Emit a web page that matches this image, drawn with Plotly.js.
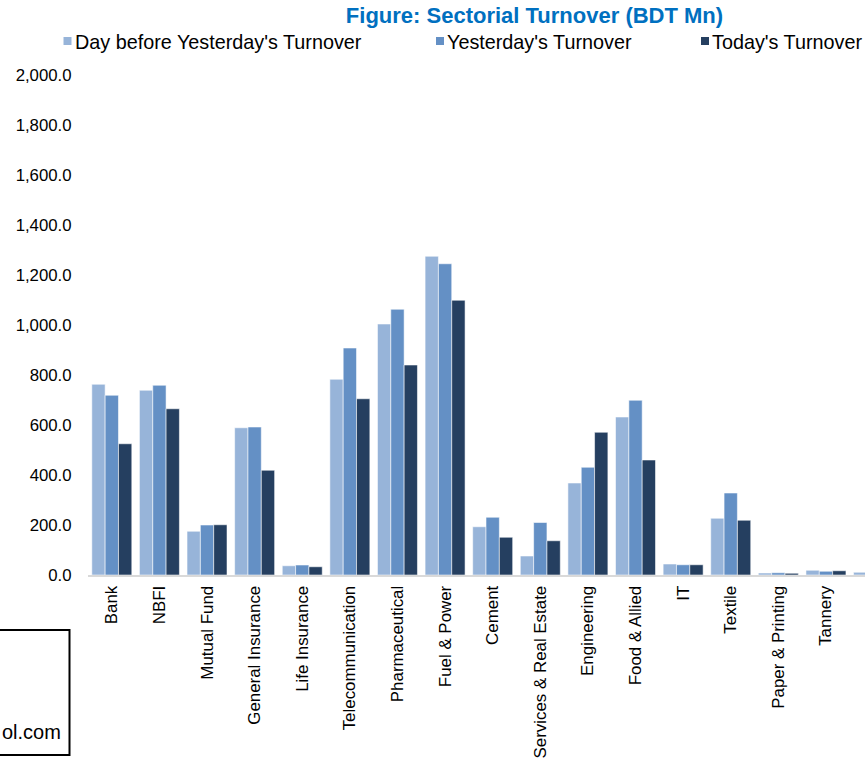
<!DOCTYPE html>
<html>
<head>
<meta charset="utf-8">
<script src="https://cdn.plot.ly/plotly-3.0.1.min.js"></script>
<style>
  html, body { margin: 0; padding: 0; background: #fff; overflow: hidden; }
  #chart { width: 865px; height: 763px; }
</style>
</head>
<body>
<div id="chart"></div>
<script>
const categories = ["Bank", "NBFI", "Mutual Fund", "General Insurance", "Life Insurance",
  "Telecommunication", "Pharmaceutical", "Fuel & Power", "Cement", "Services & Real Estate",
  "Engineering", "Food & Allied", "IT", "Textile", "Paper & Printing", "Tannery", "Jute"];
const seriesNames = ["Day before Yesterday's Turnover", "Yesterday's Turnover", "Today's Turnover"];
const dayBefore = [763, 739, 175, 589, 37, 783, 1004, 1275, 193, 76, 368, 632, 44, 227, 8, 19, 11];
const yesterday = [719, 759, 200, 592, 40, 908, 1063, 1245, 231, 210, 431, 699, 41, 328, 9, 15, 7];
const today     = [525, 665, 201, 419, 33, 705, 840, 1099, 151, 137, 571, 460, 41, 219, 7, 17, 8];
const yTicks = [0, 200, 400, 600, 800, 1000, 1200, 1400, 1600, 1800, 2000];

const colors = ["#97B4D9", "#6490C5", "#253F60"];
const FONT = "Liberation Sans, Arial, sans-serif";

const W = 865, H = 763, ML = 88, MR = 0, MT = 75, MB = 188;
const PW = W - ML - MR, PH = H - MT - MB;
const px = x => (x - ML) / PW;
const py = y => (H - MB - y) / PH;

const values = [dayBefore, yesterday, today];
const traces = values.map((v, i) => ({
  type: "bar",
  name: seriesNames[i],
  x: categories,
  y: v,
  marker: { color: colors[i], line: { color: "rgba(255,255,255,0.55)", width: 1 } },
  showlegend: false,
  hovertemplate: "%{x}: %{y:,.1f}<extra>" + seriesNames[i] + "</extra>"
}));

const legendText = [73.5, 446, 711];
const annotations = seriesNames.map((n, i) => ({
  xref: "paper", yref: "paper", x: px(legendText[i] - 1), y: py(42),
  xanchor: "left", yanchor: "middle", showarrow: false,
  text: n, font: { family: FONT, size: 19.8, color: "#000" }
}));
annotations.push({
  xref: "paper", yref: "paper", x: px(63), y: py(732),
  xanchor: "right", yanchor: "middle", showarrow: false,
  text: "ol.com", font: { family: FONT, size: 20, color: "#000" }
});

const shapes = seriesNames.map((n, i) => ({
  type: "rect", xref: "paper", yref: "paper",
  x0: px(legendText[i] - 10), x1: px(legendText[i] - 2), y0: py(45), y1: py(37),
  fillcolor: colors[i], line: { width: 0 }
}));
shapes.push({
  type: "rect", xref: "paper", yref: "paper",
  x0: px(-20), x1: px(69.5), y0: py(755), y1: py(630),
  fillcolor: "rgba(0,0,0,0)", line: { color: "#000", width: 2 }
});

const layout = {
  width: W, height: H,
  margin: { l: ML, r: MR, t: MT, b: MB, pad: 0 },
  paper_bgcolor: "#fff", plot_bgcolor: "#fff",
  font: { family: FONT, size: 17, color: "#000" },
  title: {
    text: "<b>Figure: Sectorial Turnover (BDT Mn)</b>",
    font: { family: FONT, size: 22, color: "#0070C0" },
    xref: "paper", x: px(534.5), xanchor: "center",
    yref: "container", y: 1 - 15 / H, yanchor: "middle"
  },
  barmode: "group", bargap: 0.16, bargroupgap: 0,
  xaxis: {
    type: "category", range: [-0.5, 15.82],
    tickangle: -90, tickfont: { family: FONT, size: 16.9, color: "#000" },
    ticks: "outside", ticklen: 2, tickcolor: "rgba(0,0,0,0)",
    showline: true, linecolor: "#D9D9D9", linewidth: 2,
    showgrid: false, zeroline: false, fixedrange: true
  },
  yaxis: {
    range: [0, 2000], tickvals: yTicks, tickformat: ",.1f",
    tickfont: { family: FONT, size: 16.8, color: "#000" },
    ticks: "outside", ticklen: 12, tickcolor: "rgba(0,0,0,0)",
    showline: false, showgrid: false, zeroline: false, fixedrange: true
  },
  showlegend: false,
  annotations: annotations,
  shapes: shapes
};

Plotly.newPlot("chart", traces, layout, { displayModeBar: false, staticPlot: true });
</script>
</body>
</html>
